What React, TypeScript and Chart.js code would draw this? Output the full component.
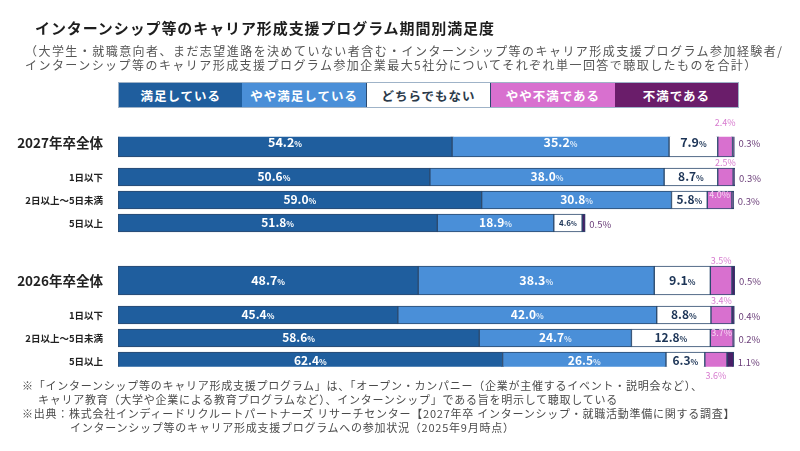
import React, { useEffect, useRef } from 'react';
import { Chart, registerables } from 'chart.js';

Chart.register(...registerables);

// ---------------- data ----------------
const rowLabels = [
  '2027年卒全体',
  '1日以下',
  '2日以上～5日未満',
  '5日以上',
  '2026年卒全体',
  '1日以下',
  '2日以上～5日未満',
  '5日以上',
];
const rowIsTotal = [true, false, false, false, true, false, false, false];

const seriesNames = ['満足している', 'やや満足している', 'どちらでもない', 'やや不満である', '不満である'];

const satisfied = [54.2, 50.6, 59.0, 51.8, 48.7, 45.4, 58.6, 62.4];
const somewhatSatisfied = [35.2, 38.0, 30.8, 18.9, 38.3, 42.0, 24.7, 26.5];
const neutral = [7.9, 8.7, 5.8, 4.6, 9.1, 8.8, 12.8, 6.3];
const somewhatDissatisfied: (number | null)[] = [2.4, 2.5, 4.0, null, 3.5, 3.4, 3.7, 3.6];
const dissatisfied = [0.3, 0.3, 0.3, 0.5, 0.5, 0.4, 0.2, 1.1];

const seriesValues: (number | null)[][] = [
  satisfied,
  somewhatSatisfied,
  neutral,
  somewhatDissatisfied,
  dissatisfied,
];

const titleText = 'インターンシップ等のキャリア形成支援プログラム期間別満足度';
const subtitleLines = [
  '（大学生・就職意向者、まだ志望進路を決めていない者含む・インターンシップ等のキャリア形成支援プログラム参加経験者/',
  'インターンシップ等のキャリア形成支援プログラム参加企業最大5社分についてそれぞれ単一回答で聴取したものを合計）',
];
const footnoteLines = [
  '※「インターンシップ等のキャリア形成支援プログラム」は、「オープン・カンパニー（企業が主催するイベント・説明会など）、',
  'キャリア教育（大学や企業による教育プログラムなど）、インターンシップ」である旨を明示して聴取している',
  '※出典：株式会社インディードリクルートパートナーズ リサーチセンター【2027年卒 インターンシップ・就職活動準備に関する調査】',
  'インターンシップ等のキャリア形成支援プログラムへの参加状況（2025年9月時点）',
];

// ---------------- styles / layout ----------------
const FONT = '"Noto Sans CJK JP", "Noto Sans", sans-serif';
const COLORS = ['#1f5e9e', '#4a8fd8', '#ffffff', '#d870cf', '#4a1f68'];
const LEGEND_COLORS = ['#1f5e9e', '#4a8fd8', '#ffffff', '#d870cf', '#6a1d6a'];
const LEGEND_TEXT = ['#ffffff', '#ffffff', '#2b3a4a', '#ffffff', '#ffffff'];
const BORDER = '#2c4a6e';

const GAP_GROUP = 5;
const GAP_AFTER_TOTAL = 3;
const GAP_SUB = 2;
const slots: number[] = [];
rowIsTotal.forEach((t, i) => {
  if (i === 0) slots.push(0);
  else slots.push(slots[i - 1] + (t ? GAP_GROUP : rowIsTotal[i - 1] ? GAP_AFTER_TOTAL : GAP_SUB));
});
const SLOT_COUNT = slots[slots.length - 1] + 1;
const slotLabels = Array.from({ length: SLOT_COUNT }, (_, s) => {
  const r = slots.indexOf(s);
  return r >= 0 ? rowLabels[r] : '';
});
const TOTAL_THICK = 29;
const SUB_THICK = 18;

function fmt(v: number) {
  return v.toFixed(1);
}

const labelPlugin = {
  id: 'segLabels',
  afterDatasetsDraw(chart: any) {
    const ctx = chart.ctx as CanvasRenderingContext2D;
    const yScale = chart.scales.y;
    ctx.save();
    chart.data.datasets.forEach((ds: any, di: number) => {
      const meta = chart.getDatasetMeta(di);
      const si = ds.seriesIndex as number;
      meta.data.forEach((el: any, idx: number) => {
        const v = ds.data[idx];
        if (v == null) return;
        const r = slots.indexOf(idx);
        if (r < 0) return;
        const { x, y, base, height } = el.getProps(['x', 'y', 'base', 'height'], true);
        const left = Math.min(x, base);
        const right = Math.max(x, base);
        const top = y - height / 2;
        const bottom = y + height / 2;
        const w = right - left;
        const cx = (left + right) / 2;
        const txt = fmt(v);
        if (si <= 2) {
          const small = w < 32;
          const nSize = small ? 8 : rowIsTotal[r] ? 12.5 : 12;
          const pSize = small ? 6 : 8;
          const color = si === 2 ? '#1d3557' : '#ffffff';
          ctx.font = `bold ${nSize}px ${FONT}`;
          const nw = ctx.measureText(txt).width;
          ctx.font = `bold ${pSize}px ${FONT}`;
          const pw = ctx.measureText('%').width;
          const sx = cx - (nw + pw) / 2;
          ctx.textBaseline = 'alphabetic';
          ctx.textAlign = 'left';
          ctx.fillStyle = color;
          ctx.font = `bold ${nSize}px ${FONT}`;
          const baseY = y + nSize * 0.36;
          ctx.fillText(txt, sx, baseY);
          ctx.font = `bold ${pSize}px ${FONT}`;
          ctx.fillStyle = si === 1 ? '#dbe9f8' : color;
          ctx.fillText('%', sx + nw, baseY);
        } else if (si === 3) {
          ctx.font = `${9}px ${FONT}`;
          ctx.fillStyle = '#d77ccf';
          ctx.textAlign = 'center';
          ctx.textBaseline = 'middle';
          let ly = top - 5;
          if (r === rowLabels.length - 1) {
            ly = bottom + 6;
          } else if (r > 0) {
            const prevThick = rowIsTotal[r - 1] ? TOTAL_THICK : SUB_THICK;
            const prevBottom = yScale.getPixelForValue(slots[r - 1]) + prevThick / 2;
            if (prevBottom > top - 10) {
              ly = top + 4;
              ctx.fillStyle = '#f7d6f3';
            }
          }
          ctx.fillText(txt + '%', cx, ly);
        } else if (si === 4) {
          ctx.font = `${9.5}px ${FONT}`;
          ctx.fillStyle = '#6a3d78';
          ctx.textAlign = 'left';
          ctx.textBaseline = 'middle';
          ctx.fillText(txt + '%', right + 4, y + 1);
        }
      });
    });
    ctx.restore();
  },
};

export default function App() {
  const canvasRef = useRef<HTMLCanvasElement | null>(null);

  useEffect(() => {
    const canvas = canvasRef.current;
    if (!canvas) return;
    const datasets: any[] = [];
    [true, false].forEach((grp) => {
      seriesValues.forEach((vals, si) => {
        const data: (number | null)[] = Array(SLOT_COUNT).fill(null);
        rowLabels.forEach((_, r) => {
          if (rowIsTotal[r] === grp) data[slots[r]] = vals[r];
        });
        datasets.push({
          label: seriesNames[si],
          data,
          seriesIndex: si,
          backgroundColor: COLORS[si],
          borderColor: BORDER,
          borderWidth: 1,
          borderSkipped: false,
          barThickness: grp ? TOTAL_THICK : SUB_THICK,
          stack: 'all',
          grouped: false,
        });
      });
    });

    const chart = new Chart(canvas, {
      type: 'bar',
      data: { labels: slotLabels, datasets },
      options: {
        indexAxis: 'y',
        animation: false,
        responsive: false,
        devicePixelRatio: 1,
        layout: { padding: { left: 0, right: 65, top: 136.75, bottom: 84.25 } },
        plugins: {
          legend: { display: false },
          tooltip: { enabled: false },
          title: { display: false },
        },
        scales: {
          x: { display: false, stacked: true, min: 0, max: 100.1 },
          y: {
            stacked: true,
            offset: true,
            grid: { display: false },
            border: { display: false },
            afterFit: (scale: any) => {
              scale.width = 118;
            },
            ticks: {
              autoSkip: false,
              padding: 7,
              color: '#222222',
              font: (c: any) => {
                const r = slots.indexOf(c.index);
                const total = r >= 0 && rowIsTotal[r];
                return total
                  ? { family: FONT, size: 13.5, weight: 'bold' }
                  : { family: FONT, size: 9.5, weight: 'bold' };
              },
            },
          },
        },
      } as any,
      plugins: [labelPlugin],
    });
    return () => chart.destroy();
  }, []);

  return (
    <div
      style={{
        position: 'fixed',
        left: 0,
        top: 0,
        width: 800,
        height: 451,
        background: '#ffffff',
        overflow: 'hidden',
        fontFamily: FONT,
      }}
    >
      <canvas
        ref={canvasRef}
        width={800}
        height={451}
        style={{ position: 'absolute', left: 0, top: 0, width: 800, height: 451 }}
      />
      <div
        style={{
          position: 'absolute',
          left: 35,
          top: 18,
          fontSize: 15,
          lineHeight: '20px',
          fontWeight: 'bold',
          color: '#1e1e1e',
          whiteSpace: 'nowrap',
          letterSpacing: '0.9px',
        }}
      >
        {titleText}
      </div>
      <div
        style={{
          position: 'absolute',
          left: 25,
          top: 44,
          fontSize: 12,
          lineHeight: '13.5px',
          color: '#555555',
          whiteSpace: 'nowrap',
          letterSpacing: '1.45px',
        }}
      >
        {subtitleLines.map((l, i) => (
          <div key={i}>{l}</div>
        ))}
      </div>
      <div
        style={{
          position: 'absolute',
          left: 118,
          top: 82,
          width: 621,
          height: 26,
          display: 'flex',
          boxSizing: 'border-box',
          border: '1px solid #9fb3c8',
        }}
      >
        {seriesNames.map((n, i) => (
          <div
            key={i}
            style={{
              flex: 1,
              background: LEGEND_COLORS[i],
              color: LEGEND_TEXT[i],
              fontSize: 12.5,
              fontWeight: 'bold',
              letterSpacing: '1px',
              display: 'flex',
              alignItems: 'center',
              justifyContent: 'center',
              boxSizing: 'border-box',
              borderLeft: i === 2 ? '1px solid #2c4a6e' : 'none',
              borderRight: i === 2 ? '1px solid #2c4a6e' : 'none',
            }}
          >
            {n}
          </div>
        ))}
      </div>
      <div
        style={{
          position: 'absolute',
          left: 0,
          top: 378,
          fontSize: 11,
          lineHeight: '14px',
          color: '#4a4a4a',
          whiteSpace: 'nowrap',
          letterSpacing: '0.75px',
        }}
      >
        {footnoteLines.map((l, i) => (
          <div key={i} style={{ paddingLeft: i === 0 || i === 2 ? 22 : i === 1 ? 38 : 70 }}>
            {l}
          </div>
        ))}
      </div>
    </div>
  );
}
